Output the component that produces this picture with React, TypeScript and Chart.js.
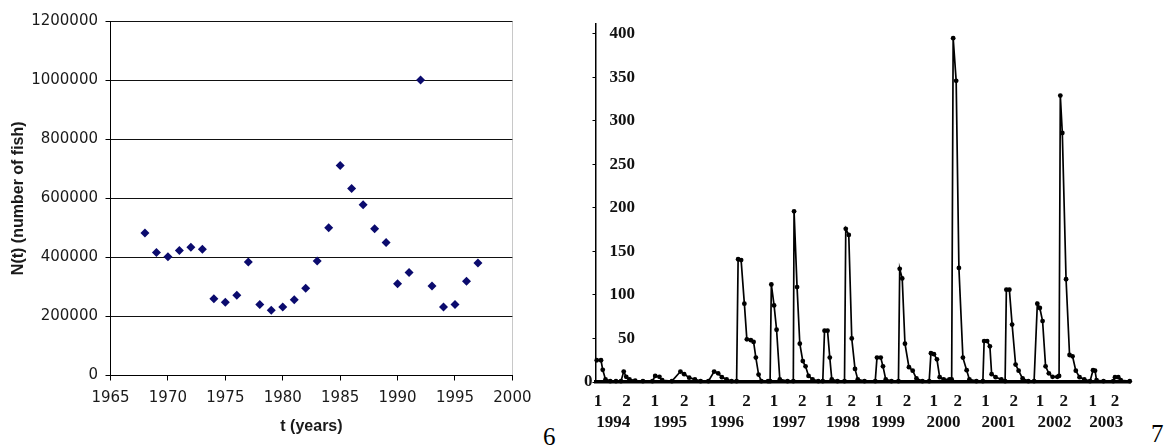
import React, { useEffect, useRef } from 'react';
import { Chart, registerables } from 'chart.js';

Chart.register(...registerables);

// ---- Left chart: fish population ----
const fishYears = [
  1968, 1969, 1970, 1971, 1972, 1973, 1974, 1975, 1976, 1977,
  1978, 1979, 1980, 1981, 1982, 1983, 1984, 1985, 1986, 1987,
  1988, 1989, 1990, 1991, 1992, 1993, 1994, 1995, 1996, 1997,
];
const fishCounts = [
  482000, 416000, 402000, 423000, 434000, 427000, 260000, 248000, 272000, 384000,
  240000, 221000, 232000, 256000, 295000, 388000, 500000, 711000, 633000, 578000,
  497000, 450000, 311000, 349000, 1000000, 303000, 232000, 240000, 319000, 381000,
];
const leftXTitle = 't (years)';
const leftYTitle = 'N(t) (number of fish)';

// ---- Right chart: seasonal series (time index vs value) ----
const seriesT = [
  0.5, 2.2, 2.9, 4.0, 5.9, 8.2, 10.2,
  11.3, 12.3, 13.6, 15.9, 19.0, 22.8,
  23.9, 25.6, 26.7, 30.6,
  34.0, 35.5, 37.5, 39.8, 42.1, 45.2,
  47.5, 49.1, 50.6, 52.5, 54.5, 56.5,
  57.1, 58.3, 59.6, 60.6, 62.2, 63.3, 64.2, 65.3, 66.4, 69.1,
  69.9, 70.4, 71.5, 72.5, 73.8, 76.9, 79.2,
  79.5, 80.7, 81.8, 83.0, 84.1, 85.3, 86.9, 89.2, 91.0,
  91.7, 92.9, 93.8, 94.6, 96.9, 99.7,
  100.2, 101.4, 102.6, 103.9, 105.0, 107.7, 112.0,
  112.7, 114.2, 115.1, 116.2, 118.5, 121.3,
  121.8, 122.8, 123.9, 125.5, 127.0, 128.5, 130.9, 133.6,
  134.3, 135.5, 136.7, 137.8, 139.4, 141.7, 142.6,
  143.2, 144.4, 145.5, 147.1, 148.6, 149.7, 152.5, 155.1,
  155.6, 156.8, 157.9, 158.6, 160.2, 162.5, 164.0,
  164.5, 165.7, 166.8, 168.2, 169.4, 171.0, 173.3, 175.6,
  176.9, 177.9, 179.0, 180.2, 181.5, 183.0, 184.9, 185.6,
  186.1, 186.9, 188.4, 189.8, 191.0, 192.3, 193.8, 195.7, 198.0,
  199.2, 200.0, 200.6, 203.4, 207.3,
  208.0, 209.3, 210.3, 213.9,
];
const seriesV = [
  25, 25, 14, 3, 1, 1, 1,
  12, 6, 3, 1.5, 1, 1,
  7, 6, 2, 1,
  12, 9, 5, 3, 1, 1,
  12, 10, 5.5, 3, 1, 1,
  141, 140, 90, 49, 48, 46, 28, 8.5, 1, 1,
  1, 112, 88, 60, 3, 1, 1,
  196, 109, 44, 24, 18, 7, 3, 1, 1,
  59, 59, 28, 3, 1, 1,
  176, 169, 50, 15, 3, 1, 1,
  28, 28, 18, 3, 1, 1,
  130, 119, 44, 17, 13, 4, 1, 1,
  33, 32, 26, 5.5, 3, 3, 3,
  395, 346, 131, 28, 13.6, 3, 1, 1,
  47, 47, 41, 9, 5.5, 3, 1,
  106, 106, 66, 20, 13, 4, 1, 1,
  90, 85, 70, 18, 10, 6, 6, 7,
  329, 286, 118, 31, 29.5, 13, 5.5, 3, 1,
  13.6, 13, 2, 1, 1,
  5.5, 5.5, 2, 1,
];
const rightYTicks = [0, 50, 100, 150, 200, 250, 300, 350, 400];
const halfTickPos = [1, 12.4, 23.7, 35.5, 46.5, 60.5, 71.5, 82.8, 93.6, 102.6, 113.5, 124.7, 135.4, 145, 156.1, 167.5, 178, 187.5, 199.1, 208];
const halfTickLabels = ['1', '2', '1', '2', '1', '2', '1', '2', '1', '2', '1', '2', '1', '2', '1', '2', '1', '2', '1', '2'];
const yearTickPos = [7.1, 29.8, 52.6, 77.4, 99.1, 117.1, 139.3, 161.4, 183.8, 204.5];
const yearTickLabels = ['1994', '1995', '1996', '1997', '1998', '1999', '2000', '2001', '2002', '2003'];

const figLabels = ['6', '7'];

export default function App() {
  const leftRef = useRef<HTMLCanvasElement | null>(null);
  const rightRef = useRef<HTMLCanvasElement | null>(null);

  useEffect(() => {
    const tickFontL = { family: 'DejaVu Sans', size: 15 };
    const titleFontL = { family: 'Liberation Sans', size: 16, weight: 'bold' as const };
    const left = new Chart(leftRef.current as HTMLCanvasElement, {
      type: 'scatter',
      data: {
        datasets: [
          {
            data: fishYears.map((x, i) => ({ x, y: fishCounts[i] })),
            pointStyle: 'rectRot',
            pointRadius: 4.5,
            backgroundColor: '#0b0b6e',
            borderColor: '#0b0b6e',
            borderWidth: 0,
          },
        ],
      },
      options: {
        animation: false,
        responsive: false,
        devicePixelRatio: 1,
        layout: { padding: { top: 21, right: 25, bottom: 0, left: 0 } },
        plugins: { legend: { display: false }, tooltip: { enabled: false } },
        scales: {
          x: {
            type: 'linear',
            min: 1965,
            max: 2000,
            ticks: {
              stepSize: 5,
              font: tickFontL,
              color: '#1a1a1a',
              padding: 8.5,
              maxRotation: 0,
              callback: (v: any) => String(v),
            },
            grid: {
              color: (ctx: any) => (ctx.tick && ctx.tick.value === 2000 ? '#c8c8c8' : 'rgba(0,0,0,0)'),
              tickColor: '#000',
              tickLength: 5,
              lineWidth: 1,
            },
            border: { color: '#000', width: 1 },
            title: {
              display: true,
              text: leftXTitle,
              font: titleFontL,
              color: '#1a1a1a',
              padding: { top: 0, bottom: 12 },
            },
            afterFit: (s: any) => {
              s.height = 72.5;
            },
          },
          y: {
            type: 'linear',
            min: 0,
            max: 1200000,
            ticks: {
              stepSize: 200000,
              font: tickFontL,
              color: '#1a1a1a',
              padding: 7.5,
              callback: (v: any) => String(v),
            },
            grid: { color: '#111', tickColor: '#000', tickLength: 5, lineWidth: 1 },
            border: { color: '#000', width: 1 },
            title: {
              display: true,
              text: leftYTitle,
              font: titleFontL,
              color: '#1a1a1a',
              padding: { top: 9, bottom: 0 },
            },
            afterFit: (s: any) => {
              s.width = 110.5;
            },
          },
        },
      },
    });

    const tickFontR = { family: 'Liberation Serif', size: 17, weight: 'bold' as const };
    const right = new Chart(rightRef.current as HTMLCanvasElement, {
      type: 'scatter',
      data: {
        datasets: [
          {
            data: seriesT.map((x, i) => ({ x, y: seriesV[i] })),
            showLine: true,
            borderColor: '#000',
            borderWidth: 1.7,
            pointRadius: 2.4,
            pointBackgroundColor: '#000',
            pointBorderWidth: 0,
            clip: false as any,
            xAxisID: 'x',
            yAxisID: 'y',
          },
        ],
      },
      options: {
        animation: false,
        responsive: false,
        devicePixelRatio: 1,
        layout: { padding: { top: 10, right: 15, bottom: 0, left: 0 } },
        plugins: { legend: { display: false }, tooltip: { enabled: false } },
        scales: {
          x: {
            type: 'linear',
            position: 'bottom',
            weight: 0,
            min: 0,
            max: 214,
            afterBuildTicks: (s: any) => {
              s.ticks = halfTickPos.map((v) => ({ value: v }));
            },
            ticks: {
              autoSkip: false,
              maxRotation: 0,
              padding: 9,
              font: tickFontR,
              color: '#111',
              callback: (_v: any, i: number) => halfTickLabels[i],
            },
            grid: { display: true, drawOnChartArea: false, drawTicks: false },
            border: { color: '#000', width: 3.5 },
            afterFit: (s: any) => {
              s.height = 30;
            },
          },
          x2: {
            type: 'linear',
            position: 'bottom',
            weight: 1,
            min: 0,
            max: 214,
            afterBuildTicks: (s: any) => {
              s.ticks = yearTickPos.map((v) => ({ value: v }));
            },
            ticks: {
              autoSkip: false,
              maxRotation: 0,
              padding: 0,
              font: tickFontR,
              color: '#111',
              callback: (_v: any, i: number) => yearTickLabels[i],
            },
            grid: { display: false, drawTicks: false },
            border: { display: false },
            afterFit: (s: any) => {
              s.height = 36;
            },
          },
          y: {
            type: 'linear',
            position: 'left',
            weight: 0,
            min: 0,
            max: 411,
            afterBuildTicks: (s: any) => {
              s.ticks = rightYTicks.map((v) => ({ value: v }));
            },
            ticks: {
              mirror: true,
              crossAlign: 'far',
              padding: 14,
              font: tickFontR,
              color: '#111',
              callback: (v: any) => (v === 0 ? '' : String(v)),
            },
            grid: { drawOnChartArea: false, tickLength: 3, color: '#000' },
            border: { color: '#000', width: 1.5 },
            afterFit: (s: any) => {
              s.width = 0;
            },
          },
          y0: {
            type: 'linear',
            position: 'left',
            weight: 1,
            min: 0,
            max: 411,
            afterBuildTicks: (s: any) => {
              s.ticks = [{ value: rightYTicks[0] }];
            },
            ticks: {
              padding: 3,
              font: tickFontR,
              color: '#111',
              callback: (v: any) => String(v),
            },
            grid: { display: false, drawTicks: false },
            border: { display: false },
            afterFit: (s: any) => {
              s.width = 30.5;
            },
          },
        },
      },
    } as any);

    return () => {
      left.destroy();
      right.destroy();
    };
  }, []);

  const figStyle: React.CSSProperties = {
    position: 'absolute',
    fontFamily: 'Liberation Serif',
    fontSize: 25,
    lineHeight: '25px',
    color: '#000',
  };

  return (
    <div style={{ position: 'absolute', left: 0, top: 0, width: 1165, height: 448, background: '#fff', overflow: 'hidden' }}>
      <canvas ref={leftRef} width={540} height={448} style={{ position: 'absolute', left: 0, top: 0, width: 540, height: 448 }} />
      <canvas ref={rightRef} width={580} height={448} style={{ position: 'absolute', left: 565, top: 0, width: 580, height: 448 }} />
      <div style={{ ...figStyle, left: 543, top: 424 }}>{figLabels[0]}</div>
      <div style={{ ...figStyle, left: 1151, top: 421 }}>{figLabels[1]}</div>
    </div>
  );
}
